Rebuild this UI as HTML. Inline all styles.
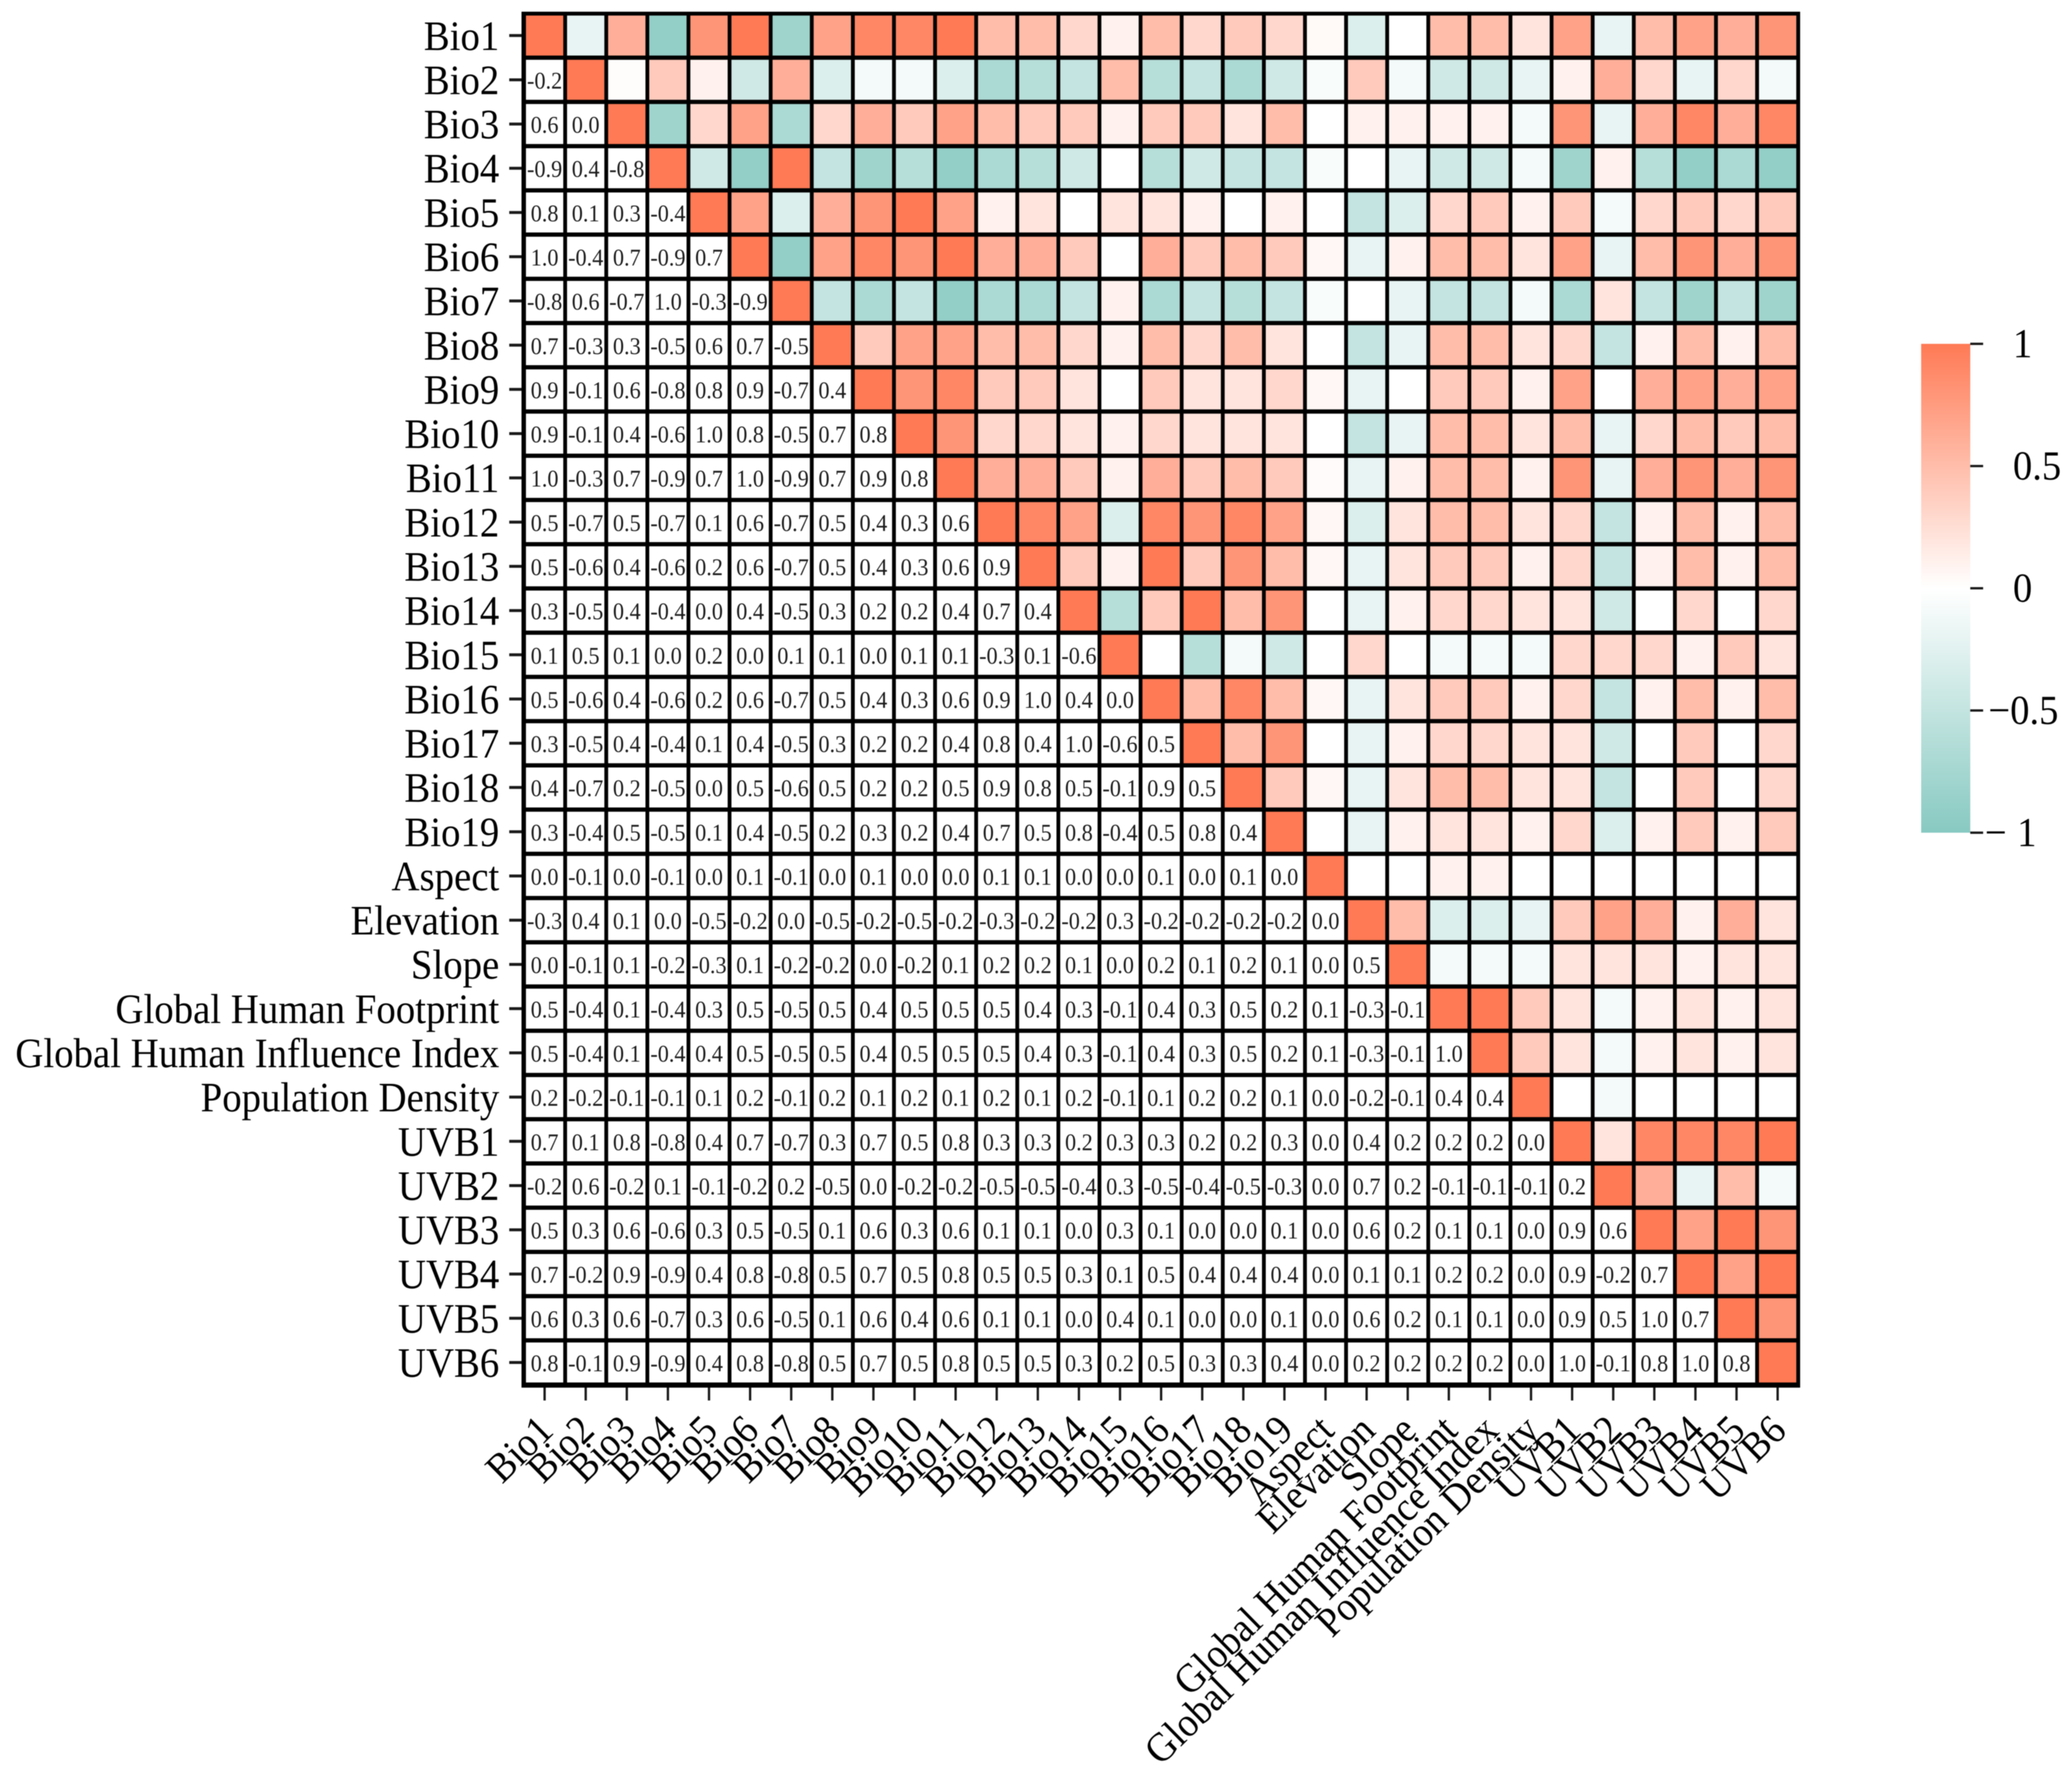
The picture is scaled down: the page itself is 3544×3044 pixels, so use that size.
<!DOCTYPE html>
<html lang="en">
<head>
<meta charset="utf-8">
<title>Correlation heatmap</title>
<style>
html,body{margin:0;padding:0;background:#fff;}
body{width:3544px;height:3044px;overflow:hidden;}
svg{display:block;filter:blur(0.9px);}
text{font-family:"Liberation Serif","Times New Roman",serif;fill:#000;text-rendering:geometricPrecision;}
</style>
</head>
<body>
<svg id="chart" xmlns="http://www.w3.org/2000/svg" width="3544" height="3044" viewBox="0 0 3544 3044">
  <rect x="0" y="0" width="3544" height="3044" fill="#ffffff"/>
  <defs>
    <linearGradient id="cbGradient" x1="0" y1="0" x2="0" y2="1"></linearGradient>
  </defs>
  <g id="plot"></g>
  <g id="yAxis"></g>
  <g id="xAxis"></g>
  <g id="colorbar"></g>
</svg>
<script>
const categories = ["Bio1","Bio2","Bio3","Bio4","Bio5","Bio6","Bio7","Bio8","Bio9","Bio10","Bio11","Bio12","Bio13","Bio14","Bio15","Bio16","Bio17","Bio18","Bio19","Aspect","Elevation","Slope","Global Human Footprint","Global Human Influence Index","Population Density","UVB1","UVB2","UVB3","UVB4","UVB5","UVB6"];

// Lower triangle of the correlation matrix; the upper triangle mirrors it as colour.
const correlationRows = [
  [],
  [-0.2],
  [0.6,0.02],
  [-0.9,0.4,-0.8],
  [0.8,0.1,0.3,-0.4],
  [1.0,-0.4,0.7,-0.9,0.7],
  [-0.8,0.6,-0.7,1.0,-0.3,-0.9],
  [0.7,-0.3,0.3,-0.5,0.6,0.7,-0.5],
  [0.9,-0.1,0.6,-0.8,0.8,0.9,-0.7,0.4],
  [0.9,-0.1,0.4,-0.6,1.0,0.8,-0.5,0.7,0.8],
  [1.0,-0.3,0.7,-0.9,0.7,1.0,-0.9,0.7,0.9,0.8],
  [0.5,-0.7,0.5,-0.7,0.1,0.6,-0.7,0.5,0.4,0.3,0.6],
  [0.5,-0.6,0.4,-0.6,0.2,0.6,-0.7,0.5,0.4,0.3,0.6,0.9],
  [0.3,-0.5,0.4,-0.4,0.0,0.4,-0.5,0.3,0.2,0.2,0.4,0.7,0.4],
  [0.1,0.5,0.1,0.0,0.2,0.0,0.1,0.1,0.0,0.1,0.1,-0.3,0.1,-0.6],
  [0.5,-0.6,0.4,-0.6,0.2,0.6,-0.7,0.5,0.4,0.3,0.6,0.9,1.0,0.4,0.0],
  [0.3,-0.5,0.4,-0.4,0.1,0.4,-0.5,0.3,0.2,0.2,0.4,0.8,0.4,1.0,-0.6,0.5],
  [0.4,-0.7,0.2,-0.5,0.0,0.5,-0.6,0.5,0.2,0.2,0.5,0.9,0.8,0.5,-0.1,0.9,0.5],
  [0.3,-0.4,0.5,-0.5,0.1,0.4,-0.5,0.2,0.3,0.2,0.4,0.7,0.5,0.8,-0.4,0.5,0.8,0.4],
  [0.04,-0.06,0.0,-0.06,0.0,0.06,-0.06,0.0,0.06,0.0,0.03,0.06,0.06,0.0,0.0,0.06,0.0,0.06,0.0],
  [-0.3,0.4,0.1,0.0,-0.5,-0.2,0.0,-0.5,-0.2,-0.5,-0.2,-0.3,-0.2,-0.2,0.3,-0.2,-0.2,-0.2,-0.2,0.0],
  [0.0,-0.1,0.1,-0.2,-0.3,0.1,-0.2,-0.2,0.0,-0.2,0.1,0.2,0.2,0.1,0.0,0.2,0.1,0.2,0.1,0.0,0.5],
  [0.5,-0.4,0.1,-0.4,0.3,0.5,-0.5,0.5,0.4,0.5,0.5,0.5,0.4,0.3,-0.1,0.4,0.3,0.5,0.2,0.1,-0.3,-0.1],
  [0.5,-0.4,0.1,-0.4,0.4,0.5,-0.5,0.5,0.4,0.5,0.5,0.5,0.4,0.3,-0.1,0.4,0.3,0.5,0.2,0.1,-0.3,-0.1,1.0],
  [0.2,-0.2,-0.1,-0.1,0.1,0.2,-0.1,0.2,0.1,0.2,0.1,0.2,0.1,0.2,-0.1,0.1,0.2,0.2,0.1,0.0,-0.2,-0.1,0.4,0.4],
  [0.7,0.1,0.8,-0.8,0.4,0.7,-0.7,0.3,0.7,0.5,0.8,0.3,0.3,0.2,0.3,0.3,0.2,0.2,0.3,0.0,0.4,0.2,0.2,0.2,0.0],
  [-0.2,0.6,-0.2,0.1,-0.1,-0.2,0.2,-0.5,0.0,-0.2,-0.2,-0.5,-0.5,-0.4,0.3,-0.5,-0.4,-0.5,-0.3,0.0,0.7,0.2,-0.1,-0.1,-0.1,0.2],
  [0.5,0.3,0.6,-0.6,0.3,0.5,-0.5,0.1,0.6,0.3,0.6,0.1,0.1,0.0,0.3,0.1,0.0,0.0,0.1,0.0,0.6,0.2,0.1,0.1,0.0,0.9,0.6],
  [0.7,-0.2,0.9,-0.9,0.4,0.8,-0.8,0.5,0.7,0.5,0.8,0.5,0.5,0.3,0.1,0.5,0.4,0.4,0.4,0.0,0.1,0.1,0.2,0.2,0.0,0.9,-0.2,0.7],
  [0.6,0.3,0.6,-0.7,0.3,0.6,-0.5,0.1,0.6,0.4,0.6,0.1,0.1,0.0,0.4,0.1,0.0,0.0,0.1,0.0,0.6,0.2,0.1,0.1,0.0,0.9,0.5,1.0,0.7],
  [0.8,-0.1,0.9,-0.9,0.4,0.8,-0.8,0.5,0.7,0.5,0.8,0.5,0.5,0.3,0.2,0.5,0.3,0.3,0.4,0.0,0.2,0.2,0.2,0.2,0.0,1.0,-0.1,0.8,1.0,0.8]
];

const diagonalValue = 1;
const colorbarTicks = [1, 0.5, 0, -0.5, -1];
const colorbarTickLabels = ["1", "0.5", "0", "\u22120.5", "\u22121"];

const NS = "http://www.w3.org/2000/svg";
const firstCellX = 931.5, firstCellY = 60.8;
const stepX = 70.3, stepY = 75.64;
const cellW = 63.8, cellH = 68.4;
const axLeft = 892, axRight = 3079, axTop = 20, axBottom = 2373;
const xScale = function (i) { return firstCellX + stepX * i; };
const yScale = function (j) { return firstCellY + stepY * j; };

const cbLeft = 3286, cbRight = 3370, cbTop = 588, cbBottom = 1424;
const cbScale = function (v) { return cbTop + (1 - v) / 2 * (cbBottom - cbTop); };

const hotColor = [255, 122, 85];
const coolColor = [135, 201, 193];
function colorScale(v) {
  const t = Math.min(1, Math.abs(v));
  const c = v >= 0 ? hotColor : coolColor;
  const r = Math.round(255 + (c[0] - 255) * t);
  const g = Math.round(255 + (c[1] - 255) * t);
  const b = Math.round(255 + (c[2] - 255) * t);
  return "rgb(" + r + "," + g + "," + b + ")";
}
function valueAt(row, col) {
  if (row === col) return diagonalValue;
  return row > col ? correlationRows[row][col] : correlationRows[col][row];
}
function make(tag, attrs, parent) {
  const el = document.createElementNS(NS, tag);
  Object.keys(attrs).forEach(function (k) { el.setAttribute(k, attrs[k]); });
  parent.appendChild(el);
  return el;
}

const plot = document.getElementById("plot");
const yAxis = document.getElementById("yAxis");
const xAxis = document.getElementById("xAxis");
const colorbar = document.getElementById("colorbar");

const frame = make("rect", {x: axLeft, y: axTop, width: axRight - axLeft, height: axBottom - axTop, fill: "#000"}, plot);



categories.forEach(function (rowName, j) {
  categories.forEach(function (colName, i) {
    const v = valueAt(j, i);
    const isLower = j > i;
    const cell = make("rect", {
      x: (xScale(i) - cellW / 2).toFixed(2),
      y: (yScale(j) - cellH / 2).toFixed(2),
      width: cellW,
      height: cellH,
      fill: isLower ? "#ffffff" : colorScale(v)
    }, plot);
    
    
    if (isLower) {
      const cx = xScale(i), base = yScale(j) + 15;
      const label = make("text", {
        transform: "translate(" + cx.toFixed(2) + "," + base.toFixed(2) + ") scale(1,1.08)",
        "text-anchor": "middle",
        "font-size": 38,
        style: "fill:#1c1c1c"
      }, plot);
      
      
      label.textContent = v.toFixed(1);
    }
  });
});

categories.forEach(function (name, j) {
  const y = yScale(j);
  const tick = make("line", {x1: 871, x2: axLeft, y1: y, y2: y, stroke: "#1a1a1a", "stroke-width": 5}, yAxis);
  
  
  const label = make("text", {
    transform: "translate(854," + (y + 24.5).toFixed(2) + ") scale(1,1.08)",
    "text-anchor": "end",
    "font-size": 66.4
  }, yAxis);
  
  
  label.textContent = name;
});

categories.forEach(function (name, i) {
  const x = xScale(i);
  const tick = make("line", {x1: x, x2: x, y1: axBottom, y2: 2395, stroke: "#1a1a1a", "stroke-width": 4}, xAxis);
  
  
  const label = make("text", {
    transform: "translate(" + (x + 18).toFixed(2) + ",2450) rotate(-44.5) scale(0.975,1.05)",
    "text-anchor": "end",
    "font-size": 67
  }, xAxis);
  
  
  label.textContent = name;
});

const gradient = document.getElementById("cbGradient");
colorbarTicks.forEach(function (v) {
  const stop = make("stop", {offset: ((1 - v) / 2 * 100) + "%", "stop-color": colorScale(v)}, gradient);
  
  
});
const cbBar = make("rect", {x: cbLeft, y: cbTop, width: cbRight - cbLeft, height: cbBottom - cbTop, fill: "url(#cbGradient)"}, colorbar);



colorbarTicks.forEach(function (v, k) {
  const y = cbScale(v);
  const tick = make("line", {x1: cbRight, x2: 3392, y1: y, y2: y, stroke: "#1a1a1a", "stroke-width": 4}, colorbar);
  
  
  const isMinusOne = v === -1;
  const startX = isMinusOne ? 3395 : (v < 0 ? 3401 : 3443);
  const label = make("text", {
    transform: "translate(" + startX + "," + (y + 23).toFixed(2) + ") scale(1,1.07)",
    "text-anchor": "start",
    "font-size": 66,
    "letter-spacing": isMinusOne ? 18 : 0
  }, colorbar);
  
  
  label.textContent = colorbarTickLabels[k];
});
</script>
</body>
</html>
